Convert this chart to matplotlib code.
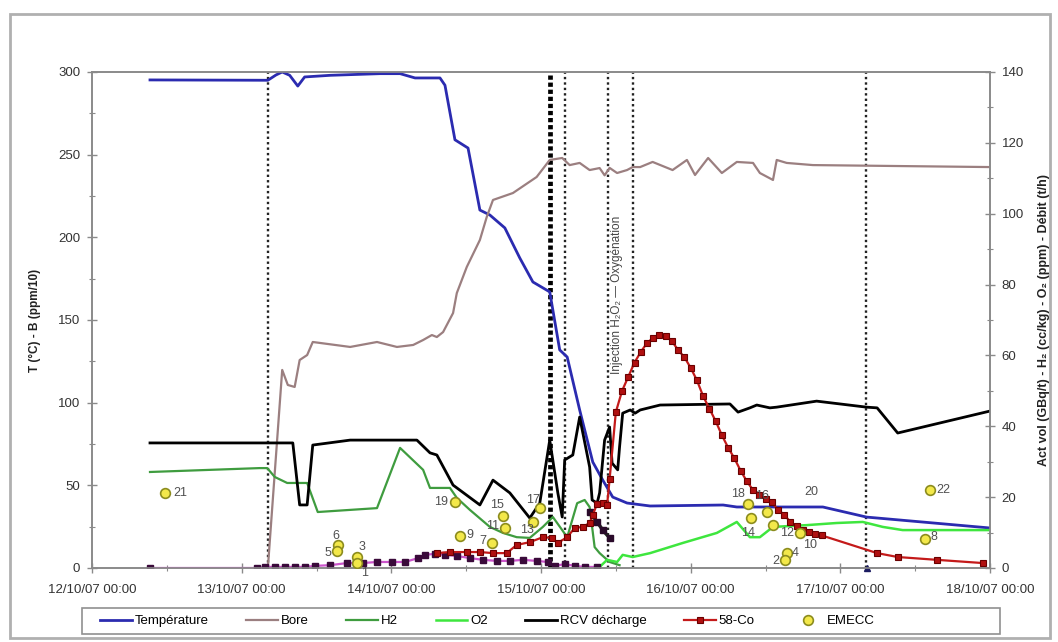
import matplotlib.pyplot as plt
from matplotlib.patches import Rectangle
from matplotlib.ticker import MultipleLocator

plt.rcParams['font.family'] = ['Liberation Sans', 'DejaVu Sans']

# temps en heures depuis le 12/10/07 00:00
jours_h = [0, 24, 48, 72, 96, 120, 144]
jours_lbl = ['12/10/07 00:00', '13/10/07 00:00', '14/10/07 00:00', '15/10/07 00:00',
             '16/10/07 00:00', '17/10/07 00:00', '18/10/07 00:00']

# axe gauche : T (°C) et Bore (ppm/10)
temp_h = [9.3, 28.2, 29.5, 30.5, 31.7, 33.0, 34.1, 38.2, 46.2, 49.4, 51.8, 55.8, 56.6, 58.2,
          60.3, 62.2, 63.8, 66.2, 68.6, 70.7, 73.4, 75.0, 76.2, 78.2, 80.3, 81.9, 83.5, 85.8,
          89.5, 101.2, 103.4, 117.2, 124.2, 144.0]
temp_v = [295.2, 295, 298.2, 300, 298, 291.5, 297, 298, 299, 299, 296.4, 296.4, 292, 259,
          254, 216.5, 213.5, 205.7, 187.5, 173, 167, 131.9, 127.6, 95.6, 64.1, 53.2, 42.9, 39.3,
          37.5, 38.1, 36.9, 36.9, 30.8, 24.2]

bore_h = [28.2, 30.5, 31.4, 32.5, 33.3, 34.5, 35.4, 41.4, 45.7, 48.9, 51.5, 53.1, 54.5, 55.3,
          56.3, 57.9, 58.5, 60.1, 62.2, 63.3, 64.3, 67.5, 71.3, 73.4, 75.4, 76.6, 78.2, 79.8,
          81.4, 82.2, 83.0, 84.2, 85.8, 86.7, 87.9, 89.9, 93.1, 95.4, 96.7, 98.8, 101.0, 103.4,
          106.0, 107.1, 109.2, 109.8, 111.4, 115.6, 144.0]
bore_v = [0, 119.8, 110.7, 109.5, 125.8, 128.8, 136.7, 133.7, 136.7, 133.7, 134.9, 137.9, 140.9,
          139.7, 142.7, 154.2, 166.3, 182.1, 198.4, 212.3, 222.6, 226.8, 236.5, 246.8, 248.0,
          243.7, 245.0, 240.7, 241.9, 237.5, 242.0, 238.9, 240.7, 242.5, 242.5, 245.6, 240.7,
          246.8, 237.7, 248.0, 238.9, 245.6, 245.0, 238.9, 234.7, 246.8, 245.0, 243.7, 242.5]

# axe droit : H2 (cc/kg), O2 (ppm), débit RCV (t/h), activités (GBq/t)
h2_h = [9.3, 26.9, 28.1, 29.3, 31.3, 34.5, 36.2, 45.7, 49.4, 53.1, 54.2, 57.4, 58.5, 60.6,
        63.8, 65.9, 68.1, 70.2, 72.3, 73.9, 75.4, 76.2, 77.8, 79.0, 79.8, 80.6, 81.4, 83.0, 84.6]
h2_v = [27.1, 28.2, 28.2, 25.7, 24.0, 24.0, 15.8, 16.9, 33.9, 27.7, 22.6, 22.6, 19.8, 16.4,
        11.6, 9.9, 8.7, 8.5, 11.6, 14.4, 10.7, 8.7, 18.3, 19.2, 17.2, 5.9, 4.2, 1.7, 0.8]

o2_h = [81.4, 82.6, 84.2, 85.1, 86.7, 89.5, 94.8, 100.2, 103.4, 105.5, 107.1, 109.2, 114.6,
        119.4, 123.6, 126.8, 130.0, 144.0]
o2_v = [0.3, 2.3, 1.7, 3.7, 3.1, 4.2, 7.1, 9.9, 13.0, 8.7, 8.7, 11.6, 12.1, 12.7, 13.0, 11.6,
        10.7, 10.7]

rcv_h = [9.3, 32.2, 33.3, 34.5, 35.4, 41.4, 52.1, 54.2, 55.3, 57.9, 62.2, 64.3, 67.0, 70.2,
         71.8, 73.4, 74.7, 75.4, 75.8, 77.1, 78.2, 79.8, 80.2, 81.0, 81.4, 82.2, 83.0, 83.4,
         84.3, 84.6, 85.1, 86.3, 87.1, 87.9, 91.1, 102.3, 103.6, 105.5, 106.6, 108.7, 109.8,
         116.2, 124.2, 125.9, 129.2, 144.0]
rcv_v = [35.3, 35.3, 17.8, 17.8, 34.7, 36.1, 36.1, 32.5, 31.9, 23.4, 17.8, 24.8, 21.2, 14.1,
         18.3, 36.1, 21.2, 14.4, 30.5, 31.9, 42.6, 28.5, 19.2, 18.3, 21.2, 36.1, 39.8, 29.6,
         27.7, 34.2, 43.7, 44.6, 43.7, 44.6, 46.0, 46.3, 44.0, 45.2, 46.0, 45.2, 45.4, 47.1,
         45.4, 45.2, 38.1, 44.3]

co58_h = [55.3, 57.4, 60.1, 62.2, 64.3, 66.5, 68.1, 70.2, 72.3, 73.7, 74.7, 76.2, 77.4, 78.7,
          79.8, 80.3, 81.0, 81.9, 82.6, 83, 84, 85, 86, 87, 88, 89, 90, 91, 92, 93, 94, 95, 96,
          97, 98, 99, 100, 101, 102, 103, 104, 105, 106, 107, 108, 109, 110, 111, 112, 113,
          114, 115, 116, 117, 125.9, 129.2, 135.5, 142.8]
co58_v = [4.2, 4.5, 4.5, 4.5, 4.2, 4.2, 6.5, 7.3, 8.7, 8.5, 7.1, 8.7, 11.3, 11.6, 12.7, 15.0,
          18.1, 18.3, 17.8, 25, 44, 50, 54, 58, 61, 63.5, 65, 65.8, 65.5, 64, 61.5, 59.5, 56.5,
          53, 48.5, 45, 41.5, 37.5, 34, 31, 27.5, 24.5, 22, 20.5, 19.5, 18.5, 16.5, 15, 13,
          11.8, 10.8, 10.2, 9.6, 9.2, 4.2, 3.1, 2.3, 1.4]

# autres activités (hors légende)
act_h = [9.3, 26.5, 27.7, 29.3, 30.9, 32.5, 34.1, 35.8, 38.2, 40.9, 43.4, 45.7, 48.1, 50.2,
         52.3, 53.4, 55.0, 56.6, 58.5, 60.6, 62.7, 64.9, 67.0, 69.1, 71.3, 73.1, 74.2, 75.8,
         77.4, 79.0, 81.0]
act_v = [0, 0, 0.3, 0.3, 0.3, 0.3, 0.3, 0.6, 0.8, 1.4, 1.4, 1.7, 1.7, 1.7, 2.8, 3.7, 4.0, 3.7,
         3.4, 2.8, 2.3, 2.0, 2.0, 2.3, 2.0, 1.7, 0.6, 1.1, 0.6, 0.3, 0.3]
act2_h = [79.8, 81.0, 81.9, 83.0]
act2_v = [15.8, 13.0, 10.7, 8.5]

# EMECC (numéro du prélèvement)
emecc_num = [21, 6, 5, 3, 1, 19, 9, 15, 11, 7, 17, 13, 18, 14, 16, 12, 10, 4, 2, 22, 8]
emecc_h = [11.7, 39.4, 39.3, 42.5, 42.5, 58.2, 59.0, 65.9, 66.2, 64.1, 71.8, 70.7, 105.2,
           105.7, 108.2, 109.2, 113.5, 111.4, 111.1, 134.3, 133.5]
emecc_v = [21.2, 6.5, 4.8, 3.1, 1.4, 18.6, 9.0, 14.7, 11.3, 7.1, 16.9, 13.0, 18.1, 14.1, 15.8,
           12.1, 9.9, 4.2, 2.3, 22.0, 8.2]

# événements (lignes verticales)
evt_h = [28.2, 73.4, 75.8, 82.7, 86.7, 124.1]
evt_txt = 'Injection H\u2082O\u2082 \u2014 Oxygénation'

# décalage des étiquettes EMECC (px) et alignement
lbl_off = {21: (8, 0, 'left'), 6: (-2, 9, 'center'), 5: (-6, -2, 'right'), 3: (5, 10, 'center'),
           1: (8, -10, 'center'), 19: (-7, 0, 'right'), 9: (6, 1, 'left'), 15: (-6, 11, 'center'),
           11: (-12, 2, 'center'), 7: (-9, 2, 'center'), 17: (-7, 8, 'center'),
           13: (-6, -8, 'center'), 18: (-10, 10, 'center'), 14: (-3, -15, 'center'),
           16: (-5, 16, 'center'), 12: (14, -8, 'center'), 10: (10, -12, 'center'),
           4: (5, 0, 'left'), 2: (-6, -1, 'right'), 22: (7, 0, 'left'), 8: (6, 2, 'left')}

W, H = 1058, 642
fig = plt.figure(figsize=(W / 100, H / 100), dpi=100)
fig.patch.set_facecolor('white')
ax = fig.add_axes([92 / W, 1 - 568 / H, (990 - 92) / W, (568 - 72) / H])
ax2 = ax.twinx()

gris = '#8a8a8a'
txt_col = '#333333'

for i, t in enumerate(evt_h):
    if i == 1:
        ax.axvline(t, color='black', lw=3.4, ls=(0, (0.9, 0.6)), zorder=1)
    else:
        ax.axvline(t, color='#222222', lw=1.7, ls=(0, (1, 1.3)), zorder=1)
ax.text(84.2, 165, evt_txt, rotation=90, fontsize=8.5, color='#444444',
        ha='center', va='center', zorder=2)

ax.plot(temp_h, temp_v, color='#2b2bb0', lw=2.0, zorder=3, label='Température')
ax.plot(bore_h, bore_v, color='#9b7f80', lw=1.6, zorder=3, label='Bore')

ax2.plot(h2_h, h2_v, color='#3f9c3f', lw=1.6, label='H2')
ax2.plot(o2_h, o2_v, color='#3ee63e', lw=1.8, label='O2')
ax2.plot(rcv_h, rcv_v, color='black', lw=2.0, label='RCV décharge')
ax2.plot(act_h, act_v, color='#cc55cc', lw=1.6, marker='s', ms=3.8,
         mfc='#3a0a3a', mec='#3a0a3a')
ax2.plot(act2_h, act2_v, color='#222222', lw=2.5, marker='s', ms=3.8, mfc='#2a0a2a',
         mec='#2a0a2a')
ax2.plot(co58_h, co58_v, color='#c41a1a', lw=1.6, marker='s', ms=4.8, mfc='#b01010',
         mec='#6a0000', mew=0.8, label='58-Co')
ax2.plot([124.2], [0], marker='^', ms=5, color='#1a1a60', ls='none', clip_on=False)
ax2.plot(emecc_h, emecc_v, ls='none', marker='o', ms=7, mfc='#f3e84a', mec='#8c8c1e',
         mew=1.2, zorder=5, label='EMECC')
for n, t, v in zip(emecc_num, emecc_h, emecc_v):
    dx, dy, ha = lbl_off[n]
    ax2.annotate(str(n), (t, v), xytext=(dx, dy), textcoords='offset pixels',
                 ha=ha, va='center', fontsize=9, color='#505050', zorder=6)
ax2.text(115.4, 21.4, '20', ha='center', va='center', fontsize=9, color='#505050')

ax.set_xlim(0, 144)
ax.set_ylim(0, 300)
ax2.set_ylim(0, 140)
ax.set_xticks(jours_h)
ax.set_xticklabels(jours_lbl)
ax.xaxis.set_minor_locator(MultipleLocator(12))
ax.yaxis.set_major_locator(MultipleLocator(50))
ax.yaxis.set_minor_locator(MultipleLocator(25))
ax2.yaxis.set_major_locator(MultipleLocator(20))
ax2.yaxis.set_minor_locator(MultipleLocator(10))

for a in (ax, ax2):
    for s in a.spines.values():
        s.set_color(gris)
        s.set_linewidth(1.2)
    a.tick_params(which='major', direction='inout', length=7, width=1, color=gris,
                  labelsize=9.5, labelcolor=txt_col)
    a.tick_params(which='minor', direction='inout', length=4, width=0.8, color=gris)
ax.tick_params(axis='x', pad=8)
ax.tick_params(axis='y', pad=5)
ax2.tick_params(axis='y', pad=5)

ax.set_ylabel('T (°C) - B (ppm/10)', fontsize=8.5, fontweight='bold', color='#222222',
              labelpad=12)
ax2.set_ylabel('Act vol (GBq/t) - H\u2082 (cc/kg) - O\u2082 (ppm) - Débit (t/h)',
               fontsize=9, fontweight='bold', color='#222222', labelpad=10)

# légende
handles = ax.get_lines()[-2:] + [l for l in ax2.get_lines() if not l.get_label().startswith('_')]
fig.legend(handles=handles, labels=[h.get_label() for h in handles], loc='center',
           bbox_to_anchor=(95 / W, 1 - 634 / H, (880 - 95) / W, 26 / H), mode='expand',
           ncol=7, frameon=False, fontsize=9.5, handlelength=2.4, handletextpad=0.2,
           borderaxespad=0, numpoints=1)
fig.patches.append(Rectangle((82 / W, 1 - 634 / H), (1000 - 82) / W, 26 / H,
                             transform=fig.transFigure, fill=False, edgecolor='#909090', lw=1.2))
# cadre du graphique
fig.patches.append(Rectangle((10 / W, 1 - 638 / H), (1050 - 10) / W, (638 - 14) / H,
                             transform=fig.transFigure, fill=False, edgecolor='#b0b0b0', lw=2))

fig.savefig('out.png', dpi=100)
